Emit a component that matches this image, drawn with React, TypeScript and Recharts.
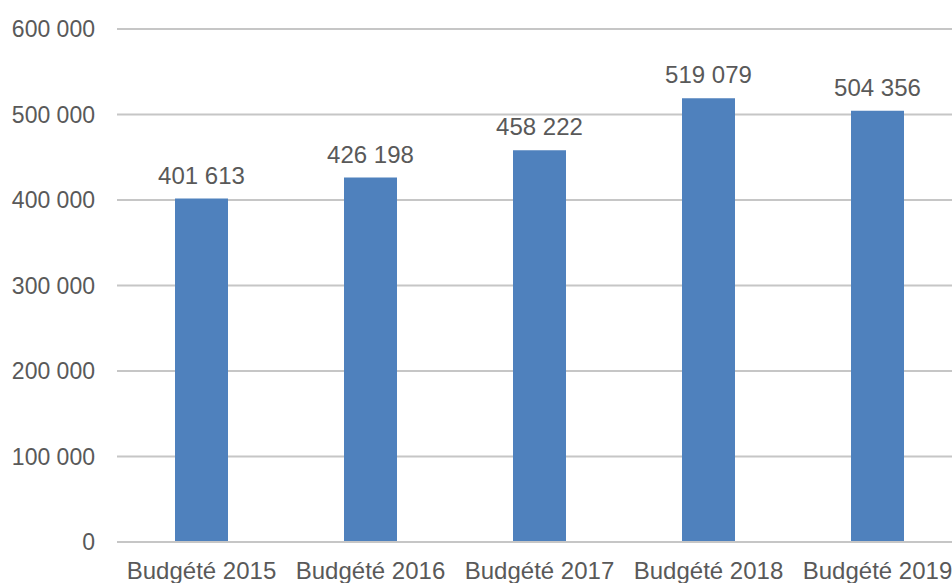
import React from 'react';
import { BarChart, Bar, XAxis, YAxis, CartesianGrid, LabelList } from 'recharts';

const categories = ['Budgété 2015', 'Budgété 2016', 'Budgété 2017', 'Budgété 2018', 'Budgété 2019'];
const values = [401613, 426198, 458222, 519079, 504356];
const yTicks = [0, 100000, 200000, 300000, 400000, 500000, 600000];

const data = categories.map((c, i) => ({ name: c, value: values[i] }));

const fmt = (v: number) => {
  const s = Math.round(v).toString();
  return s.replace(/\B(?=(\d{3})+(?!\d))/g, ' ');
};

const FONT = '"Liberation Sans", Arial, sans-serif';
const TEXT = '#595959';

const renderLabel = (props: any) => {
  const { x, y, width, value } = props;
  return (
    <text x={Number(x) + Number(width) / 2} y={Number(y) - 15} textAnchor="middle" fontSize={24} fill={TEXT} fontFamily={FONT}>
      {fmt(Number(value))}
    </text>
  );
};

const XTick = (props: any) => {
  const { x, y, payload } = props;
  return (
    <text x={x} y={y} dy={37} textAnchor="middle" fontSize={24} fill={TEXT} fontFamily={FONT}>
      {payload.value}
    </text>
  );
};

const YTick = (props: any) => {
  const { x, y, payload } = props;
  return (
    <text x={x} y={y} dy={8} textAnchor="end" fontSize={23} fill={TEXT} fontFamily={FONT}>
      {fmt(Number(payload.value))}
    </text>
  );
};

export default function App() {
  return (
    <div style={{ position: 'absolute', left: 0, top: 0, width: 952, height: 583, overflow: 'hidden', background: '#fff' }}>
      <BarChart width={962} height={619} data={data} margin={{ top: 29, right: 0, bottom: 0, left: 0 }} barSize={53}>
        <CartesianGrid vertical={false} stroke="#C6C6C6" strokeWidth={2} />
        <XAxis dataKey="name" height={77} axisLine={{ stroke: '#C6C6C6', strokeWidth: 2 }} tickLine={false} tickSize={0} tickMargin={0} tick={<XTick />} interval={0} />
        <YAxis width={117} domain={[0, 600000]} ticks={yTicks} axisLine={false} tickLine={false} tickSize={0} tickMargin={22} tick={<YTick />} interval={0} />
        <Bar dataKey="value" fill="#4F81BD" isAnimationActive={false}>
          <LabelList dataKey="value" content={renderLabel} />
        </Bar>
      </BarChart>
    </div>
  );
}
